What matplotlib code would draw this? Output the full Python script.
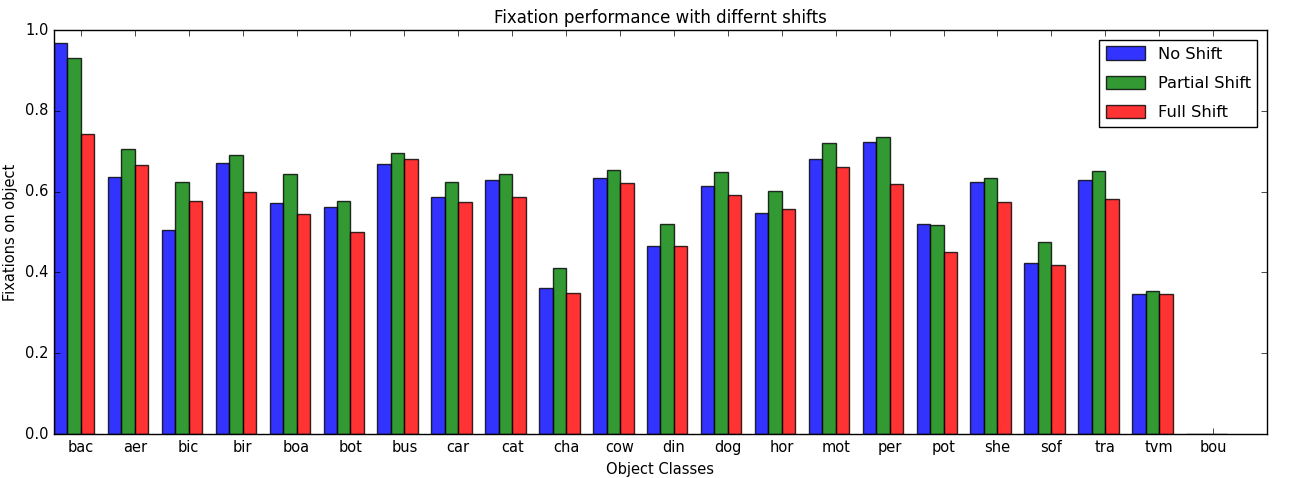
import matplotlib.pyplot as plt
import numpy as np

plt.style.use('classic')

classes = ['bac', 'aer', 'bic', 'bir', 'boa', 'bot', 'bus', 'car', 'cat', 'cha', 'cow',
           'din', 'dog', 'hor', 'mot', 'per', 'pot', 'she', 'sof', 'tra', 'tvm', 'bou']
no_shift = [0.967, 0.636, 0.505, 0.670, 0.572, 0.561, 0.668, 0.587, 0.630, 0.362, 0.633,
            0.466, 0.614, 0.546, 0.682, 0.724, 0.520, 0.624, 0.424, 0.630, 0.346, 0.0]
partial_shift = [0.932, 0.705, 0.623, 0.692, 0.645, 0.578, 0.695, 0.624, 0.645, 0.412, 0.653,
                 0.520, 0.649, 0.601, 0.721, 0.736, 0.517, 0.633, 0.475, 0.650, 0.355, 0.0]
full_shift = [0.743, 0.665, 0.577, 0.599, 0.545, 0.500, 0.682, 0.574, 0.587, 0.350, 0.621,
              0.466, 0.591, 0.557, 0.662, 0.618, 0.450, 0.574, 0.419, 0.583, 0.346, 0.0]

ind = np.arange(len(classes))
width = 0.25

fig = plt.figure(figsize=(12.91, 4.78), dpi=100)
ax = fig.add_axes([0.0418, 0.092, 0.9396, 0.845])

# old-style edge aligned bars, ticks at the right edge of the green bar
ax.bar(ind, no_shift, width, color='b', alpha=0.8, label='No Shift', align='edge')
ax.bar(ind + width, partial_shift, width, color='g', alpha=0.8, label='Partial Shift', align='edge')
ax.bar(ind + 2 * width, full_shift, width, color='r', alpha=0.8, label='Full Shift', align='edge')

ax.set_xlim(0, len(classes) + 0.5)
ax.set_ylim(0, 1.0)
ax.set_xticks(ind + 2 * width)
ax.set_xticklabels(classes, fontsize=10.5)
ax.set_yticks(np.arange(0, 1.01, 0.2))
ax.tick_params(axis='y', labelsize=10.5)
ax.set_xlabel('Object Classes', fontsize=10.5)
ax.set_ylabel('Fixations on object', fontsize=10.5)
ax.set_title('Fixation performance with differnt shifts', fontsize=12)
ax.legend(loc='upper right', fontsize=11.7, labelspacing=0.85, handlelength=2.4,
          handleheight=0.9, borderaxespad=0.6)

fig.savefig('out.png', dpi=100)
